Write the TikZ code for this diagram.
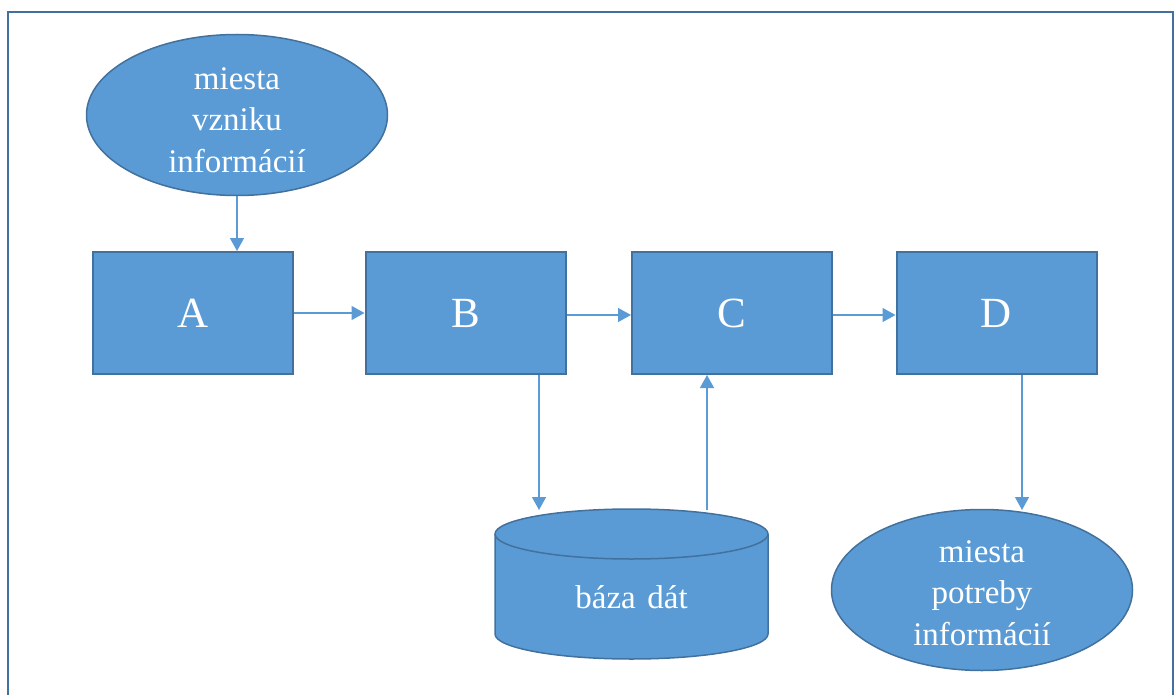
\documentclass[tikz,border=0pt]{standalone}
\usepackage{fontspec}
\setmainfont{Liberation Serif}
\usetikzlibrary{arrows.meta,shapes.geometric}
\definecolor{fillblue}{HTML}{5B9BD5}
\definecolor{edgeblue}{HTML}{41719C}
\definecolor{frameblue}{HTML}{41719C}
\begin{document}
\begin{tikzpicture}[x=1pt,y=-1pt,
  box/.style={draw=edgeblue,line width=2pt,fill=fillblue,minimum width=200pt,minimum height=122pt,inner sep=0pt,text=white,font=\fontsize{43}{50}\selectfont},
  oval/.style={ellipse,draw=edgeblue,line width=1.5pt,fill=fillblue,minimum width=301pt,minimum height=161pt,inner sep=0pt},
  ovaltext/.style={text=white,align=center,inner sep=0pt,font=\fontsize{33}{41.5}\selectfont},
  conn/.style={draw=fillblue,line width=1.3pt,-{Triangle[width=14pt,length=13pt]}},
  cyl/.style={draw=edgeblue,line width=1.5pt,fill=fillblue}]
\useasboundingbox (0,0) rectangle (1175,695);
\draw[frameblue,line width=2.5pt] (8,695) -- (8,12) -- (1173,12) -- (1173,695);

% ellipses
\node[oval] (src) at (237,115) {};
\node[ovaltext] (srct) at ([yshift=-5pt]src.center) {miesta\\vzniku\\informácií};
\node[oval] (need) at (982,590) {};
\node[ovaltext] (needt) at ([yshift=-3pt]need.center) {miesta\\potreby\\informácií};

% boxes
\node[box] (A) at (193,313) {A};
\node[box] (B) at (465.5,313) {B};
\node[box] (C) at (732,313) {C};
\node[box] (D) at (996.5,313) {D};

% database cylinder
\path[cyl] (495,534) -- (495,634)
  arc[start angle=180,end angle=360,x radius=136.5pt,y radius=25pt]
  -- (768,534)
  arc[start angle=0,end angle=180,x radius=136.5pt,y radius=25pt] -- cycle;
\draw[edgeblue,line width=1.5pt] (495,534)
  arc[start angle=180,end angle=360,x radius=136.5pt,y radius=25pt];
\node[ovaltext] (db) at (631.5,597) {báza\hspace{0.35em}dát};
\coordinate (dbin) at (539,510);
\coordinate (dbout) at (707,510);
\coordinate (needin) at (1022,510);

% connectors
\draw[conn] (src.south) -- (src.south |- A.north);
\draw[conn] (A.east) -- (B.west);
\draw[conn] ([yshift=-2pt]B.east) -- ([yshift=-2pt]C.west);
\draw[conn] ([yshift=-2pt]C.east) -- ([yshift=-2pt]D.west);
\draw[conn] (B.south -| dbin) -- (dbin);
\draw[conn] (dbout) -- (dbout |- C.south);
\draw[conn] (D.south -| needin) -- (needin);
\end{tikzpicture}
\end{document}
